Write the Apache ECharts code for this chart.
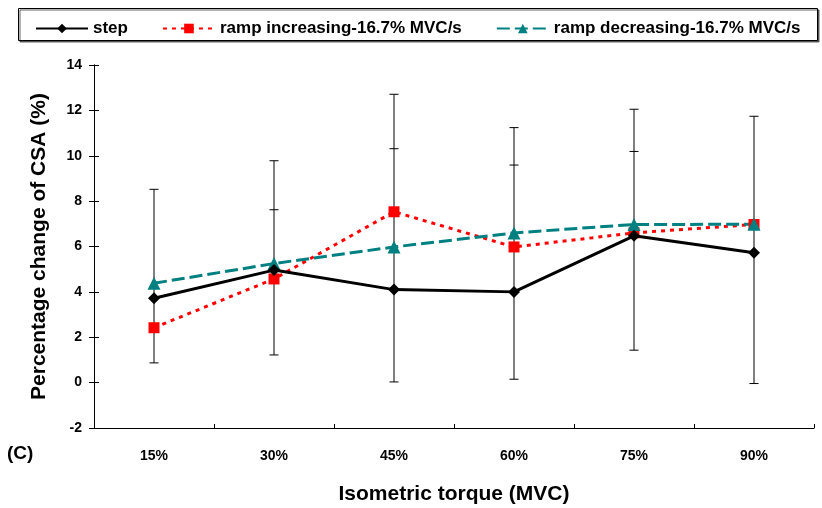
<!DOCTYPE html>
<html>
<head>
<meta charset="utf-8">
<script src="https://cdn.jsdelivr.net/npm/echarts@6/dist/echarts.min.js"></script>
<style>
  html, body { margin: 0; padding: 0; background: #fff; }
  #chart { width: 822px; height: 508px; }
</style>
</head>
<body>
<div id="chart"></div>
<script>
const categories = ['15%', '30%', '45%', '60%', '75%', '90%'];
const stepValues = [3.72, 4.96, 4.1, 4.0, 6.47, 5.72];
const rampUpValues = [2.42, 4.57, 7.53, 5.98, 6.6, 6.97];
const rampDownValues = [4.38, 5.25, 5.98, 6.6, 6.97, 6.98];
// error bar caps at each torque level
const errLow = [0.87, 1.22, 0.03, 0.15, 1.43, -0.04];
const errMid = [null, 7.62, 10.31, 9.59, 10.19, null];
const errHigh = [8.52, 9.78, 12.71, 11.24, 12.05, 11.74];
const yTicks = [-2, 0, 2, 4, 6, 8, 10, 12, 14];

const font = '"Liberation Sans", Arial, sans-serif';
const chart = echarts.init(document.getElementById('chart'), null, { renderer: 'canvas' });

const errData = categories.map((c, i) => [i, errLow[i], errMid[i], errHigh[i]]);

function renderErr(params, api) {
  const x = api.value(0);
  const lo = api.coord([x, api.value(1)]);
  const hi = api.coord([x, api.value(3)]);
  const w = 4.5;
  const style = { stroke: '#000', lineWidth: 1 };
  const children = [
    { type: 'line', shape: { x1: lo[0], y1: lo[1], x2: hi[0], y2: hi[1] }, style },
    { type: 'line', shape: { x1: lo[0] - w, y1: lo[1], x2: lo[0] + w, y2: lo[1] }, style },
    { type: 'line', shape: { x1: hi[0] - w, y1: hi[1], x2: hi[0] + w, y2: hi[1] }, style },
  ];
  const midVal = api.value(2);
  if (midVal !== null && !isNaN(midVal)) {
    const mid = api.coord([x, midVal]);
    children.push({ type: 'line', shape: { x1: mid[0] - w, y1: mid[1], x2: mid[0] + w, y2: mid[1] }, style });
  }
  return { type: 'group', children };
}

const yAxisBase = {
  type: 'value',
  min: -2,
  max: 14,
  interval: 2,
  splitLine: { show: false },
  axisLine: { show: true, lineStyle: { color: '#000', width: 1 } },
};

chart.setOption({
  animation: false,
  grid: { left: 94, right: 8, top: 65, bottom: 80, outerBoundsMode: 'none' },
  legend: {
    left: 30,
    top: 15,
    itemWidth: 52,
    itemHeight: 12,
    itemGap: 34,
    textStyle: { fontFamily: font, fontWeight: 'bold', fontSize: 17, color: '#000' },
    data: ['step', 'ramp increasing-16.7% MVC/s', 'ramp decreasing-16.7% MVC/s'],
  },
  graphic: [
    {
      type: 'rect',
      shape: { x: 18.5, y: 8.5, width: 799, height: 32 },
      style: { fill: '#fff', stroke: '#000', lineWidth: 1, shadowColor: 'rgba(60,60,60,0.8)', shadowOffsetX: 1.5, shadowOffsetY: 1.5, shadowBlur: 0 },
      z: -1,
    },
    {
      type: 'text',
      left: 7,
      top: 444,
      style: { text: '(C)', fontFamily: font, fontWeight: 'bold', fontSize: 19, fill: '#000' },
    },
  ],
  xAxis: {
    type: 'category',
    data: categories,
    boundaryGap: true,
    axisLine: { onZero: false, lineStyle: { color: '#000', width: 1 } },
    axisTick: { show: true, inside: true, length: 4, lineStyle: { color: '#000' } },
    axisLabel: { margin: 21, fontFamily: font, fontWeight: 'bold', fontSize: 14, color: '#000' },
    name: 'Isometric torque (MVC)',
    nameLocation: 'middle',
    nameGap: 56,
    nameTextStyle: { fontFamily: font, fontWeight: 'bold', fontSize: 21, color: '#000' },
  },
  yAxis: [
    Object.assign({}, yAxisBase, {
      axisTick: { show: true, length: 5, lineStyle: { color: '#000' } },
      axisLabel: {
        margin: 12,
        fontFamily: font,
        fontWeight: 'bold',
        fontSize: 14,
        color: '#000',
        formatter: (v) => (yTicks.includes(v) ? String(v) : ''),
      },
      name: 'Percentage change of CSA (%)',
      nameLocation: 'middle',
      nameGap: 44,
      nameTextStyle: { fontFamily: font, fontWeight: 'bold', fontSize: 21, color: '#000' },
    }),
    Object.assign({}, yAxisBase, {
      position: 'left',
      axisTick: { show: true, inside: true, length: 5, lineStyle: { color: '#000' } },
      axisLabel: { show: false },
    }),
  ],
  series: [
    {
      type: 'custom',
      name: 'err',
      renderItem: renderErr,
      data: errData,
      z: 1,
      silent: true,
    },
    {
      name: 'step',
      type: 'line',
      data: stepValues,
      symbol: 'diamond',
      symbolSize: 12,
      itemStyle: { color: '#000' },
      lineStyle: { color: '#000', width: 3 },
      z: 4,
    },
    {
      name: 'ramp increasing-16.7% MVC/s',
      type: 'line',
      data: rampUpValues,
      symbol: 'rect',
      symbolSize: 11,
      itemStyle: { color: '#ff0000' },
      lineStyle: { color: '#ff0000', width: 3, type: [4, 5] },
      z: 3,
    },
    {
      name: 'ramp decreasing-16.7% MVC/s',
      type: 'line',
      data: rampDownValues,
      symbol: 'triangle',
      symbolSize: 13,
      itemStyle: { color: '#008080' },
      lineStyle: { color: '#008080', width: 3, type: [13, 5] },
      z: 3,
    },
  ],
});
</script>
</body>
</html>
